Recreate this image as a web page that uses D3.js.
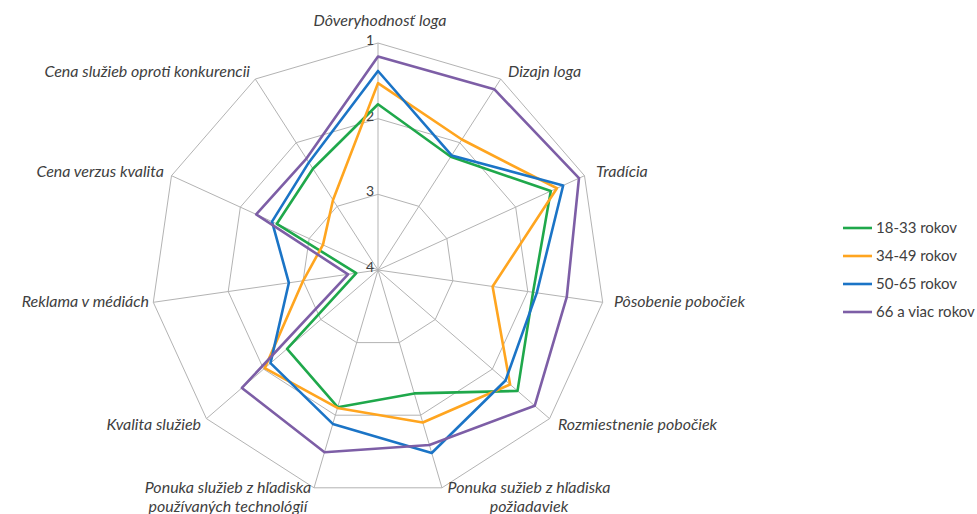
<!DOCTYPE html>
<html>
<head>
<meta charset="utf-8">
<script src="https://cdn.jsdelivr.net/npm/d3@7"></script>
<style>
  body { margin: 0; background: #fff; }
  svg { display: block; }
  text { font-family: Lato, "Open Sans", sans-serif; fill: #404040; }
</style>
</head>
<body>
<svg id="chart" width="977" height="514"></svg>
<script>
// axis labels, clockwise from the top (multi-line labels split by "\n")
const axes = [
  "Dôveryhodnosť loga",
  "Dizajn loga",
  "Tradícia",
  "Pôsobenie pobočiek",
  "Rozmiestnenie pobočiek",
  "Ponuka sužieb z hľadiska\npožiadaviek",
  "Ponuka služieb z hľadiska\npoužívaných technológií",
  "Kvalita služieb",
  "Reklama v médiách",
  "Cena verzus kvalita",
  "Cena služieb oproti konkurencii"
]

const seriesNames = ["18-33 rokov", "34-49 rokov", "50-65 rokov", "66 a viac rokov"]
const seriesColors = ["#1fa84b", "#ffa51f", "#1b74c6", "#7d5ea6"]

// average rating, 1 = best (outer ring), 4 = centre
const green  = [1.81, 2.22, 1.49, 1.93, 1.56, 2.30, 2.11, 2.41, 3.71, 2.53, 2.41]
const orange = [1.53, 1.95, 1.40, 2.47, 1.69, 1.90, 2.10, 2.02, 3.00, 3.20, 2.90]
const blue   = [1.37, 2.20, 1.31, 1.88, 1.77, 1.48, 1.88, 2.12, 2.81, 2.46, 2.31]
const purple = [1.18, 1.16, 1.08, 1.48, 1.26, 1.59, 1.49, 1.62, 3.60, 2.23, 2.25]

const ticks = [1, 2, 3, 4]

const cx = 378, cy = 270, R = 227
const svg = d3.select("#chart")

const r = d3.scaleLinear().domain([4, 1]).range([0, R])
const angle = i => i * 2 * Math.PI / axes.length
const pt = (i, v) => [cx + Math.sin(angle(i)) * r(v), cy - Math.cos(angle(i)) * r(v)]

const grid = svg.append("g")
  .attr("fill", "none")
  .attr("stroke", "#b3b3b3")
  .attr("stroke-width", 1)

// rings
grid.selectAll("path.ring")
  .data(ticks.filter(t => t < 4))
  .join("path")
  .attr("class", "ring")
  .attr("d", t => d3.line()(axes.map((_, i) => pt(i, t))) + "Z")

// spokes
grid.selectAll("line")
  .data(axes)
  .join("line")
  .attr("x1", cx).attr("y1", cy)
  .attr("x2", (d, i) => pt(i, 1)[0])
  .attr("y2", (d, i) => pt(i, 1)[1])

// tick labels beside the top spoke
svg.append("g")
  .selectAll("text")
  .data(ticks)
  .join("text")
  .attr("x", cx - 4)
  .attr("y", t => cy - r(t))
  .attr("dy", "0.15em")
  .attr("text-anchor", "end")
  .attr("font-size", 14)
  .text(t => t)

// series
const series = [green, orange, blue, purple]
svg.append("g")
  .selectAll("path")
  .data(series)
  .join("path")
  .attr("fill", "none")
  .attr("stroke", (d, i) => seriesColors[i])
  .attr("stroke-width", 2.6)
  .attr("stroke-linejoin", "round")
  .attr("d", d => d3.line()(d.map((v, i) => pt(i, v))) + "Z")

// axis labels
const labelPos = [
  { x: 380, y: 26, anchor: "middle" },
  { x: 508, y: 77, anchor: "start" },
  { x: 596, y: 177, anchor: "start" },
  { x: 614, y: 307, anchor: "start" },
  { x: 558, y: 430, anchor: "start" },
  { x: 529, y: 493, anchor: "middle" },
  { x: 228, y: 493, anchor: "middle" },
  { x: 201, y: 430, anchor: "end" },
  { x: 149, y: 307, anchor: "end" },
  { x: 164, y: 177, anchor: "end" },
  { x: 250, y: 77, anchor: "end" }
]

svg.append("g")
  .attr("font-size", 16)
  .attr("font-style", "italic")
  .selectAll("text")
  .data(axes)
  .join("text")
  .attr("x", (d, i) => labelPos[i].x)
  .attr("y", (d, i) => labelPos[i].y)
  .attr("text-anchor", (d, i) => labelPos[i].anchor)
  .each(function(d, i) {
    d3.select(this).selectAll("tspan")
      .data(d.split("\n"))
      .join("tspan")
      .attr("x", labelPos[i].x)
      .attr("dy", (s, j) => j ? 19 : 0)
      .text(s => s)
  })

// legend
const legend = svg.append("g")
  .attr("transform", "translate(843,228)")
  .selectAll("g")
  .data(seriesNames)
  .join("g")
  .attr("transform", (d, i) => `translate(0,${i * 28})`)

legend.append("line")
  .attr("x1", 0).attr("x2", 29)
  .attr("stroke", (d, i) => seriesColors[i])
  .attr("stroke-width", 2.6)

legend.append("text")
  .attr("x", 33)
  .attr("dy", "0.35em")
  .attr("font-size", 15)
  .text(d => d)
</script>
</body>
</html>
